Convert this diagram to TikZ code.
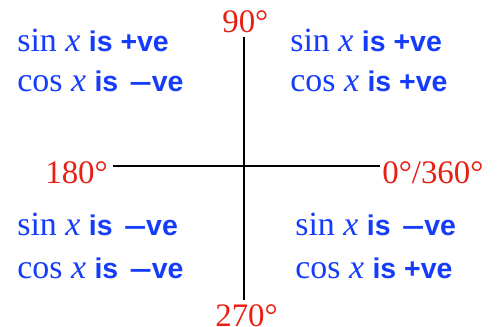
\documentclass[tikz,border=0pt]{standalone}
\usepackage{fontspec}
\setmainfont{Liberation Serif}
\setsansfont{Liberation Sans}
\usetikzlibrary{positioning,calc}
\usepackage{xcolor}
\definecolor{trigblue}{RGB}{20,60,250}
\definecolor{angred}{RGB}{232,32,20}
% sign markers
\newcommand{\pve}{+ve}
\newcommand{\mve}{\hspace{2pt}\scalebox{1.4}[1]{–}ve}
\newcommand{\trigline}[2]{{\fontsize{19.3}{22}\selectfont #1 \textit{x} }{\fontsize{16.2}{19}\selectfont\sffamily\bfseries is #2}}

\begin{document}
\begin{tikzpicture}[x=0.02cm,y=-0.02cm]
\tikzset{
  AX/.style={draw=black,line width=1.1pt},
  AN/.style={text=angred,font=\fontsize{18.7}{22}\selectfont,inner sep=0pt,anchor=base west},
  TL/.style={text=trigblue,inner sep=0pt,anchor=base west},
}
\useasboundingbox (0,0) rectangle (500,327);

\coordinate (O) at (244,166);

\node[AN](n90)  at (222, 33){90°};
\node[AN](n180) at ( 45,184){180°};
\node[AN](n0)   at (382,184){0°/360°};
\node[AN](n270) at (215,327){270°};

\draw[AX,shorten <=3pt,shorten >=1pt](n180.east |- O)--(n0.west |- O);
\draw[AX](O |- 0,37)--(O |- 0,300);

\node[TL](q2sin) at ( 17, 52){\trigline{sin}{\pve}};
\node[TL](q2cos) at ( 17, 92){\trigline{cos}{\mve}};
\node[TL](q1sin) at (290, 52){\trigline{sin}{\pve}};
\node[TL](q1cos) at (290, 92){\trigline{cos}{\pve}};
\node[TL](q3sin) at ( 17,236){\trigline{sin}{\mve}};
\node[TL](q3cos) at ( 17,279){\trigline{cos}{\mve}};
\node[TL](q4sin) at (295,236){\trigline{sin}{\mve}};
\node[TL](q4cos) at (295,279){\trigline{cos}{\pve}};

\end{tikzpicture}
\end{document}
